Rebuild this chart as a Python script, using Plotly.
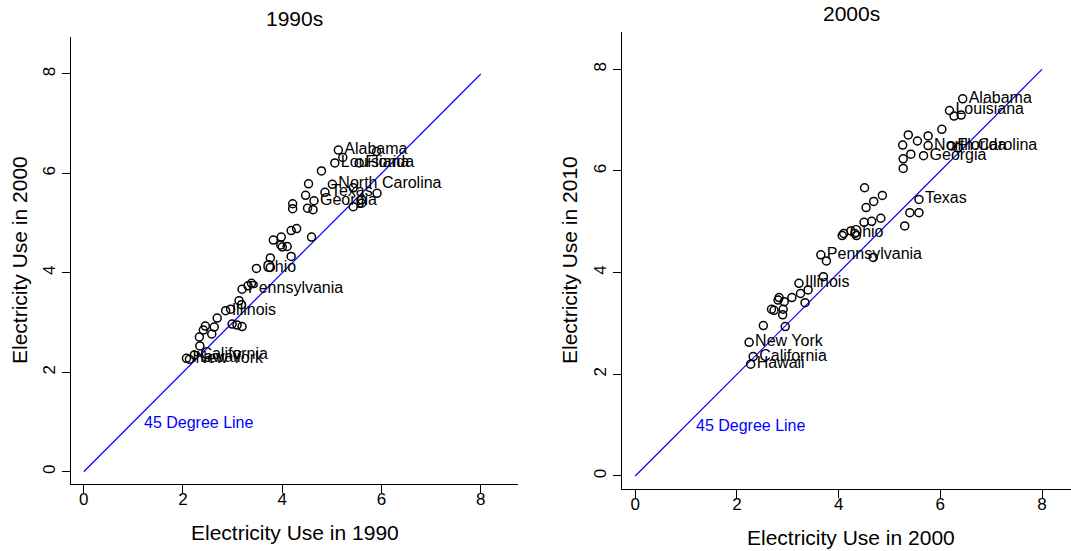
import plotly.graph_objects as go

# ---------------- data ----------------
# Panel 1: 1990 vs 2000
x1990 = [5.13, 5.22, 5.06, 5.55, 5.90, 4.79, 4.53, 5.01, 5.43, 4.86,
         4.47, 5.91, 5.60, 5.43, 4.64, 4.21, 4.21, 4.51, 4.62, 4.29,
         4.18, 3.98, 3.82, 3.97, 4.10, 4.00, 4.59, 3.76, 4.18, 3.76,
         3.48, 3.38, 3.31, 3.19, 3.13, 3.18, 2.96, 2.86, 2.99, 3.09,
         3.19, 2.69, 2.45, 2.41, 2.63, 2.58, 2.33, 2.34, 2.23, 2.07,
         2.13, 5.60]
y2000 = [6.47, 6.32, 6.21, 6.21, 6.44, 6.05, 5.79, 5.78, 5.71, 5.62,
         5.56, 5.60, 5.47, 5.33, 5.45, 5.39, 5.29, 5.30, 5.27, 4.89,
         4.85, 4.72, 4.66, 4.56, 4.53, 4.52, 4.72, 4.30, 4.33, 4.11,
         4.09, 3.79, 3.74, 3.67, 3.44, 3.36, 3.27, 3.24, 2.97, 2.95,
         2.92, 3.09, 2.93, 2.85, 2.91, 2.77, 2.71, 2.53, 2.35, 2.28,
         2.26, 5.40]
lab90 = ["Alabama", "", "Louisiana", "Florida", "", "", "", "North Carolina", "", "Texas",
         "", "", "", "", "Georgia", "", "", "", "", "",
         "", "", "", "", "", "", "", "", "", "",
         "Ohio", "", "", "Pennsylvania", "", "", "", "Illinois", "", "",
         "", "", "", "", "", "", "", "", "California", "Hawaii",
         "New York", ""]

# Panel 2: 2000 vs 2010
x2000 = [6.44, 6.18, 6.27, 6.41, 6.03, 5.37, 5.76, 5.55, 5.26, 5.76,
         6.22, 6.35, 5.42, 5.67, 5.27, 5.27, 4.51, 4.86, 4.69, 4.54,
         5.58, 5.40, 5.58, 4.83, 4.65, 4.50, 5.30, 4.07, 4.10, 4.24,
         4.32, 4.35, 3.65, 3.76, 4.68, 3.70, 3.22, 3.40, 3.25, 3.08,
         2.83, 2.93, 2.81, 3.34, 2.68, 2.73, 2.91, 2.90, 2.52, 2.95,
         2.24, 2.32, 2.27]
y2010 = [7.42, 7.19, 7.08, 7.10, 6.82, 6.71, 6.69, 6.59, 6.51, 6.50,
         6.49, 6.46, 6.33, 6.30, 6.24, 6.05, 5.67, 5.52, 5.40, 5.28,
         5.44, 5.18, 5.18, 5.07, 5.01, 4.99, 4.92, 4.73, 4.77, 4.82,
         4.77, 4.73, 4.35, 4.23, 4.30, 3.92, 3.79, 3.66, 3.59, 3.51,
         3.51, 3.43, 3.46, 3.41, 3.28, 3.26, 3.28, 3.17, 2.96, 2.94,
         2.63, 2.35, 2.20]
lab00 = ["Alabama", "Louisiana", "", "", "", "", "", "", "", "North Carolina",
         "Florida", "", "", "Georgia", "", "", "", "", "", "",
         "Texas", "", "", "", "", "", "", "", "Ohio", "",
         "", "", "Pennsylvania", "", "", "", "Illinois", "", "", "",
         "", "", "", "", "", "", "", "", "", "",
         "New York", "California", "Hawaii"]

line45 = [0, 8]
tick_vals = [0, 2, 4, 6, 8]
panel_titles = ["1990s", "2000s"]
x_titles = ["Electricity Use in 1990", "Electricity Use in 2000"]
y_titles = ["Electricity Use in 2000", "Electricity Use in 2010"]
line_label = "45 Degree Line"

# ---------------- figure ----------------
FONT = "Liberation Sans, Arial, Helvetica, sans-serif"
W, H = 1071, 551

fig = go.Figure()

marker = dict(symbol="circle-open", size=8, color="black", line=dict(width=1.5, color="black"))

for (xs, ys, labs, xa, ya) in [(x1990, y2000, lab90, "x", "y"), (x2000, y2010, lab00, "x2", "y2")]:
    fig.add_trace(go.Scatter(x=line45, y=line45, mode="lines",
                             line=dict(color="#0000FF", width=1.2),
                             xaxis=xa, yaxis=ya, hoverinfo="skip"))
    fig.add_trace(go.Scatter(x=xs, y=ys, mode="markers+text", text=labs,
                             textposition="middle right",
                             textfont=dict(family=FONT, size=16, color="black"),
                             marker=marker, cliponaxis=False,
                             xaxis=xa, yaxis=ya))

axis_common = dict(showgrid=False, zeroline=False, showline=True, linecolor="black",
                   linewidth=1, ticks="outside", ticklen=8, tickwidth=1, tickcolor="black",
                   tickvals=tick_vals, tickfont=dict(family=FONT, size=17, color="black"),
                   automargin=False)

# pixel geometry
L = dict(x0=71, x1=518, ytop=36.7, ybot=484)
R = dict(x0=622, x1=1071, ytop=31.7, ybot=489)

fig.update_layout(
    width=W, height=H, margin=dict(l=0, r=0, t=0, b=0),
    plot_bgcolor="white", paper_bgcolor="white", showlegend=False,
    xaxis=dict(axis_common, domain=[L["x0"] / W, L["x1"] / W], range=[-0.256, 8.75], anchor="y",
               ticklabelstandoff=-8),
    yaxis=dict(axis_common, domain=[1 - L["ybot"] / H, 1 - L["ytop"] / H], range=[-0.247, 8.75],
               anchor="x", tickangle=-90, ticklabelstandoff=0),
    xaxis2=dict(axis_common, domain=[R["x0"] / W, 1.0], range=[-0.26, 8.57], anchor="y2",
                ticklabelstandoff=-8),
    yaxis2=dict(axis_common, domain=[1 - R["ybot"] / H, 1 - R["ytop"] / H], range=[-0.256, 8.74],
                anchor="x2", tickangle=-90, ticklabelstandoff=0),
)

ann = []
# panel titles
ann.append(dict(text=panel_titles[0], x=294.5 / W, y=1 - 18.3 / H, xref="paper", yref="paper",
                showarrow=False, xanchor="center", yanchor="middle",
                font=dict(family=FONT, size=21, color="black")))
ann.append(dict(text=panel_titles[1], x=851 / W, y=1 - 13.3 / H, xref="paper", yref="paper",
                showarrow=False, xanchor="center", yanchor="middle",
                font=dict(family=FONT, size=21, color="black")))
# axis titles
ann.append(dict(text=x_titles[0], x=294.5 / W, y=1 - 532 / H, xref="paper", yref="paper",
                showarrow=False, xanchor="center", yanchor="middle",
                font=dict(family=FONT, size=21, color="black")))
ann.append(dict(text=x_titles[1], x=851 / W, y=1 - 537 / H, xref="paper", yref="paper",
                showarrow=False, xanchor="center", yanchor="middle",
                font=dict(family=FONT, size=21, color="black")))
ann.append(dict(text=y_titles[0], x=19 / W, y=1 - 260 / H, xref="paper", yref="paper",
                showarrow=False, xanchor="center", yanchor="middle", textangle=-90,
                font=dict(family=FONT, size=21, color="black")))
ann.append(dict(text=y_titles[1], x=569 / W, y=1 - 260 / H, xref="paper", yref="paper",
                showarrow=False, xanchor="center", yanchor="middle", textangle=-90,
                font=dict(family=FONT, size=21, color="black")))
# 45 degree line labels
ann.append(dict(text=line_label, x=1.17, y=1.0, xref="x", yref="y", showarrow=False,
                xanchor="left", yanchor="middle", font=dict(family=FONT, size=16, color="#0000FF")))
ann.append(dict(text=line_label, x=1.15, y=1.0, xref="x2", yref="y2", showarrow=False,
                xanchor="left", yanchor="middle", font=dict(family=FONT, size=16, color="#0000FF")))
fig.update_layout(annotations=ann)

fig.write_html("out.html", config={"displayModeBar": False},
               post_script="document.body.style.margin='0';document.body.style.padding='0';")
